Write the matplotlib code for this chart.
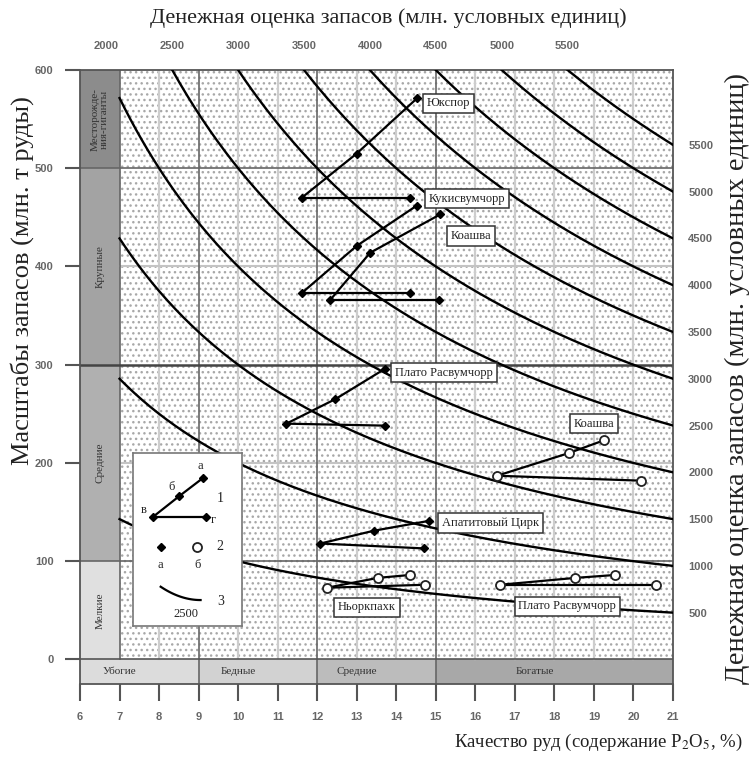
import matplotlib
matplotlib.use('Agg')
import matplotlib.pyplot as plt
import numpy as np
from matplotlib.patches import Rectangle

plt.rcParams['mathtext.fontset'] = 'stix'
SERIF = ['Liberation Serif', 'DejaVu Serif']
SANS = ['Liberation Sans', 'DejaVu Sans']

# ---------------- data ----------------
value_factor = 0.5                       # value = factor * grade * tonnage
iso_values = [500, 1000, 1500, 2000, 2500, 3000, 3500, 4000, 4500, 5000, 5500]
top_values = [2000, 2500, 3000, 3500, 4000, 4500, 5000, 5500]
right_values = [500, 1000, 1500, 2000, 2500, 3000, 3500, 4000, 4500, 5000, 5500]
x_ticks = [6, 7, 8, 9, 10, 11, 12, 13, 14, 15, 16, 17, 18, 19, 20, 21]
y_ticks = [0, 100, 200, 300, 400, 500, 600]

scale_names = ['Мелкие', 'Средние', 'Крупные', 'Месторожде-\nния-гиганты']
scale_bounds = [0, 100, 300, 500, 600]
grade_names = ['Убогие', 'Бедные', 'Средние', 'Богатые']
grade_bounds = [6, 9, 12, 15, 21]

dep_names = ['Юкспор', 'Кукисвумчорр', 'Коашва', 'Плато Расвумчорр',
             'Апатитовый Цирк', 'Коашва', 'Ньоркпахк', 'Плато Расвумчорр']
dep_filled = [True, True, True, True, True, False, False, False]
# point "а" (end), "б" (middle), "в" (start), "г" (horizontal end)
a_x = [14.52, 14.52, 15.11, 13.72, 14.82, 19.25, 14.35, 19.54]
a_q = [571, 462, 453, 296, 141, 223, 86, 86]
b_x = [13.0, 13.0, 13.34, 12.46, 13.43, 18.36, 13.53, 18.53]
b_q = [515, 421, 414, 265, 131, 210, 83, 83]
v_x = [11.61, 11.61, 12.33, 11.22, 12.08, 16.55, 12.25, 16.62]
v_q = [470, 373, 366, 240, 118, 187, 73, 76]
g_x = [14.35, 14.35, 15.07, 13.72, 14.71, 20.18, 14.73, 20.56]
g_q = [470, 373, 366, 238, 113, 182, 76, 76]

# label box anchor (left edge, centre) for every deposit
label_pos = [(14.78, 566), (14.81, 469), (15.37, 431), (13.97, 292),
             (15.16, 139), (18.48, 240), (12.53, 53), (17.09, 54)]

# ---------------- figure ----------------
W, H = 752, 758
fig = plt.figure(figsize=(W / 100, H / 100), dpi=100)
ax = fig.add_axes([80 / W, 1 - 684 / H, 593 / W, 614 / H])
ax.set_xlim(6, 21)
ax.set_ylim(-25, 600)

# dotted field
ax.add_patch(Rectangle((7, 0), 14, 600, facecolor='white', edgecolor='#a8a8a8',
                       hatch='...', linewidth=0, zorder=0))

# scale bands (left)
scale_colors = ['#e0e0e0', '#b0b0b0', '#a3a3a3', '#8c8c8c']
for i, name in enumerate(scale_names):
    lo, hi = scale_bounds[i], scale_bounds[i + 1]
    ax.add_patch(Rectangle((6, lo), 1, hi - lo, facecolor=scale_colors[i],
                           edgecolor='none', zorder=1))
    ax.text(6.5, (lo + hi) / 2, name, rotation=90, ha='center', va='center',
            fontsize=8, family=SERIF, color='#333', linespacing=0.9, zorder=2)

# grade bands (bottom)
grade_colors = ['#dcdcdc', '#d2d2d2', '#bcbcbc', '#a8a8a8']
for i, name in enumerate(grade_names):
    lo, hi = grade_bounds[i], grade_bounds[i + 1]
    ax.add_patch(Rectangle((lo, -25), hi - lo, 25, facecolor=grade_colors[i],
                           edgecolor='none', zorder=1))
    ax.text((lo + hi) / 2 - 0.5, -12.5, name, ha='center', va='center',
            fontsize=8, family=SERIF, color='#333', zorder=2)

# grid lines
for x in range(8, 21):
    if x not in (9, 12, 15):
        ax.plot([x, x], [0, 600], color='#cdcdcd', lw=1.6, zorder=1)
for x in (9, 12, 15):
    ax.plot([x, x], [-25, 600], color='#666', lw=1.2, zorder=1.5)
ax.plot([7, 7], [0, 600], color='#666', lw=1.2, zorder=1.5)
for y in (200, 400):
    ax.plot([7, 21], [y, y], color='#c4c4c4', lw=1.5, zorder=1)
for y in (100, 500):
    ax.plot([6, 21], [y, y], color='#666', lw=1.2, zorder=1.5)
ax.plot([6, 21], [300, 300], color='#444', lw=1.8, zorder=1.5)
ax.plot([6, 21], [0, 0], color='#555', lw=1.2, zorder=1.5)

# iso-value curves
for V in iso_values:
    x0 = max(7.0, V / (value_factor * 600))
    xs = np.linspace(x0, 21, 200)
    ax.plot(xs, V / (value_factor * xs), color='black', lw=1.7, zorder=3)

# deposits
for i, name in enumerate(dep_names):
    ax.plot([v_x[i], b_x[i], a_x[i]], [v_q[i], b_q[i], a_q[i]], color='black', lw=1.6, zorder=4)
    ax.plot([v_x[i], g_x[i]], [v_q[i], g_q[i]], color='black', lw=1.6, zorder=4)
    xs = [a_x[i], b_x[i], v_x[i], g_x[i]]
    qs = [a_q[i], b_q[i], v_q[i], g_q[i]]
    if dep_filled[i]:
        ax.plot(xs, qs, ls='none', marker='D', ms=4.5, color='black', zorder=5)
    else:
        ax.plot(xs, qs, ls='none', marker='o', ms=6.5, mfc='white', mec='#222',
                mew=1.3, zorder=5)
    lx, lq = label_pos[i]
    ax.text(lx, lq, name, ha='left', va='center', fontsize=9, family=SERIF,
            color='#222', zorder=6,
            bbox=dict(boxstyle='square,pad=0.3', fc='white', ec='#333', lw=1.1))

# axes styling
for s in ax.spines.values():
    s.set_color('#555')
    s.set_linewidth(1.3)
ax.set_xticks(x_ticks)
ax.set_yticks(y_ticks)
ax.tick_params(axis='x', length=12, width=1.5, color='#555', pad=8,
               labelsize=8, labelcolor='#666')
ax.tick_params(axis='y', length=11, width=1.5, color='#555', pad=8,
               labelsize=8, labelcolor='#666')
for lab in ax.get_xticklabels() + ax.get_yticklabels():
    lab.set_fontweight('bold')
    lab.set_family(SANS)

# top value axis
axt = ax.twiny()
axt.set_xlim(6, 21)
axt.set_xticks([V / (value_factor * 600) for V in top_values])
axt.set_xticklabels([str(V) for V in top_values])
axt.tick_params(axis='x', length=0, pad=14, labelsize=8, labelcolor='#666')
# right value axis
axr = ax.twinx()
axr.set_ylim(-25, 600)
axr.set_yticks([V / (value_factor * 21) for V in right_values])
axr.set_yticklabels([str(V) for V in right_values])
axr.tick_params(axis='y', length=0, pad=11, labelsize=8, labelcolor='#666')
for a in (axt, axr):
    for s in a.spines.values():
        s.set_visible(False)
    for lab in a.get_xticklabels() + a.get_yticklabels():
        lab.set_fontweight('bold')
        lab.set_family(SANS)

# legend key
lg = fig.add_axes([133 / W, 1 - 626 / H, 109 / W, 173 / H])
lg.set_xlim(0, 1)
lg.set_ylim(0, 1)
lg.set_xticks([])
lg.set_yticks([])
lg.set_facecolor('white')
lg.set_zorder(10)
for s in lg.spines.values():
    s.set_color('#777')
    s.set_linewidth(1.2)
lg.plot([0.186, 0.425, 0.639], [0.632, 0.751, 0.854], color='black', lw=1.6)
lg.plot([0.186, 0.670], [0.632, 0.632], color='black', lw=1.6)
lg.plot([0.186, 0.425, 0.639, 0.670], [0.632, 0.751, 0.854, 0.632], ls='none',
        marker='D', ms=4.5, color='black')
kw = dict(family=SERIF, color='#222', ha='center', va='center')
lg.text(0.615, 0.925, 'а', fontsize=9, **kw)
lg.text(0.35, 0.805, 'б', fontsize=9, **kw)
lg.text(0.10, 0.672, 'в', fontsize=9, **kw)
lg.text(0.74, 0.61, 'г', fontsize=9, **kw)
lg.text(0.80, 0.735, '1', fontsize=10, **kw)
lg.plot([0.254], [0.458], marker='D', ms=4.5, color='black')
lg.plot([0.59], [0.458], marker='o', ms=6.5, mfc='white', mec='#222', mew=1.3)
lg.text(0.80, 0.458, '2', fontsize=10, **kw)
lg.text(0.254, 0.355, 'а', fontsize=9, **kw)
lg.text(0.59, 0.355, 'б', fontsize=9, **kw)
cx = np.linspace(0.254, 0.62, 50)
lg.plot(cx, 0.15 + 0.077 * ((0.62 - cx) / 0.366) ** 2, color='black', lw=1.6)
lg.text(0.80, 0.14, '3', fontsize=10, **kw)
lg.text(0.49, 0.07, '2500', fontsize=9, **kw)

# axis titles
fig.text(388 / W, 1 - 18 / H, 'Денежная оценка запасов (млн. условных единиц)',
         ha='center', va='center', fontsize=16, family=SERIF, color='#222')
fig.text(22 / W, 1 - 281 / H, 'Масштабы запасов (млн. т руды)', rotation=90,
         ha='center', va='center', fontsize=19, family=SERIF, color='#222')
fig.text(737 / W, 1 - 378 / H, 'Денежная оценка запасов (млн. условных единиц)',
         rotation=90, ha='center', va='center', fontsize=20.5, family=SERIF, color='#222')
fig.text(742 / W, 1 - 742 / H, 'Качество руд (содержание P$_2$O$_5$, %)',
         ha='right', va='center', fontsize=13.5, family=SERIF, color='#222')

fig.savefig('out.png', dpi=100)
